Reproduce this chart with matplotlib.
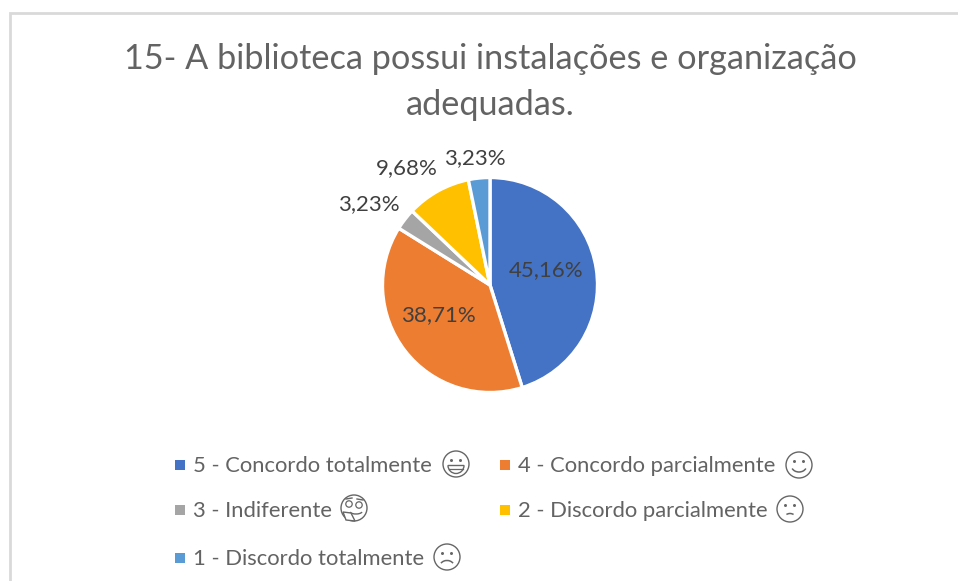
import numpy as np
import matplotlib
matplotlib.use('Agg')
import matplotlib.pyplot as plt
from matplotlib.patches import Circle, Arc, Rectangle, Polygon, Wedge

title = '15- A biblioteca possui instalações e organização\nadequadas.'
categories = ['5 - Concordo totalmente', '4 - Concordo parcialmente', '3 - Indiferente',
              '2 - Discordo parcialmente', '1 - Discordo totalmente']
values = [45.16, 38.71, 3.23, 9.68, 3.23]
colors = ['#4472c4', '#ed7d31', '#a5a5a5', '#ffc000', '#5b9bd5']

W, H = 958, 581
plt.rcParams['font.family'] = ['Lato', 'DejaVu Sans']
fig = plt.figure(figsize=(W / 100, H / 100), dpi=100)
cx, cy, r = 490, 285, 107.5

ax = fig.add_axes([(cx - r) / W, 1 - (cy + r) / H, 2 * r / W, 2 * r / H])
ax.pie(values, colors=colors, startangle=90, counterclock=False,
       wedgeprops={'edgecolor': 'white', 'linewidth': 2.4})
ax.set_xlim(-1, 1)
ax.set_ylim(-1, 1)
for w in ax.patches:
    w.set_clip_on(False)

# overlay in pixel coords for the texts and the little faces
ov = fig.add_axes([0, 0, 1, 1], zorder=5)
ov.set_xlim(0, W)
ov.set_ylim(H, 0)
ov.axis('off')
ov.patch.set_alpha(0)

ov.plot([9.7, 9.7, W], [H, 12.5, 12.5], color='#d9d9d9', lw=2, solid_joinstyle='miter')

ov.text(490, 82, title, ha='center', va='center', fontsize=24.65, color='#636363', linespacing=1.53)

label_pos = [(546, 270), (438, 315), (369, 204), (407, 168), (475, 158)]
for v, (x, y) in zip(values, label_pos):
    ov.text(x, y, f'{v:.2f}%'.replace('.', ','), ha='center', va='center', fontsize=16, color='#404040')

legend_pos = [(175, 465), (500, 465), (175, 510), (500, 510), (175, 558)]
for name, col, (x, y) in zip(categories, colors, legend_pos):
    ov.add_patch(Rectangle((x, y - 5), 10, 10, color=col, lw=0))
    ov.text(x + 18, y + 1, name, ha='left', va='center', fontsize=15.8, color='#636363')


def face(x, y, mouth):
    c = '#666666'
    ov.add_patch(Circle((x, y), 13, fc='white', ec=c, lw=1.0))
    if mouth == 'think':
        ov.add_patch(Circle((x - 5, y - 4), 3.2, fc='white', ec=c, lw=0.9))
        ov.add_patch(Circle((x + 5, y - 3), 3.2, fc='white', ec=c, lw=0.9))
        ov.plot([x - 8, x - 2], [y - 9, y - 10], color=c, lw=1)
        ov.plot([x + 3, x + 9], [y - 9, y - 8], color=c, lw=1)
        ov.add_patch(Arc((x + 2, y + 3), 13, 6, theta1=10, theta2=170, ec=c, lw=1))
        ov.add_patch(Polygon([(x - 11, y + 4), (x - 3, y + 5), (x + 1, y + 13), (x - 8, y + 12)], closed=True, fc='white', ec=c, lw=1))
        return
    ov.add_patch(Circle((x - 4.5, y - 3.5), 1.5, color=c, lw=0))
    ov.add_patch(Circle((x + 4.5, y - 3.5), 1.5, color=c, lw=0))
    if mouth == 'grin':
        ov.add_patch(Wedge((x, y + 1.5), 8, 0, 180, fc='white', ec=c, lw=1))
        ov.plot([x - 7, x + 7], [y + 5, y + 5], color=c, lw=0.9)
    elif mouth == 'smile':
        ov.add_patch(Arc((x, y + 1), 15, 12, theta1=20, theta2=160, ec=c, lw=1.1))
    elif mouth == 'frown':
        ov.add_patch(Arc((x, y + 9), 14, 11, theta1=205, theta2=335, ec=c, lw=1.1))
    elif mouth == 'slight':
        ov.add_patch(Arc((x, y + 8), 10, 7, theta1=215, theta2=325, ec=c, lw=1.1))


face(456, 464, 'grin')
face(799, 465, 'smile')
face(354, 508, 'think')
face(790, 509, 'slight')
face(447, 557, 'frown')

fig.savefig('out.png', dpi=100, facecolor='white')
